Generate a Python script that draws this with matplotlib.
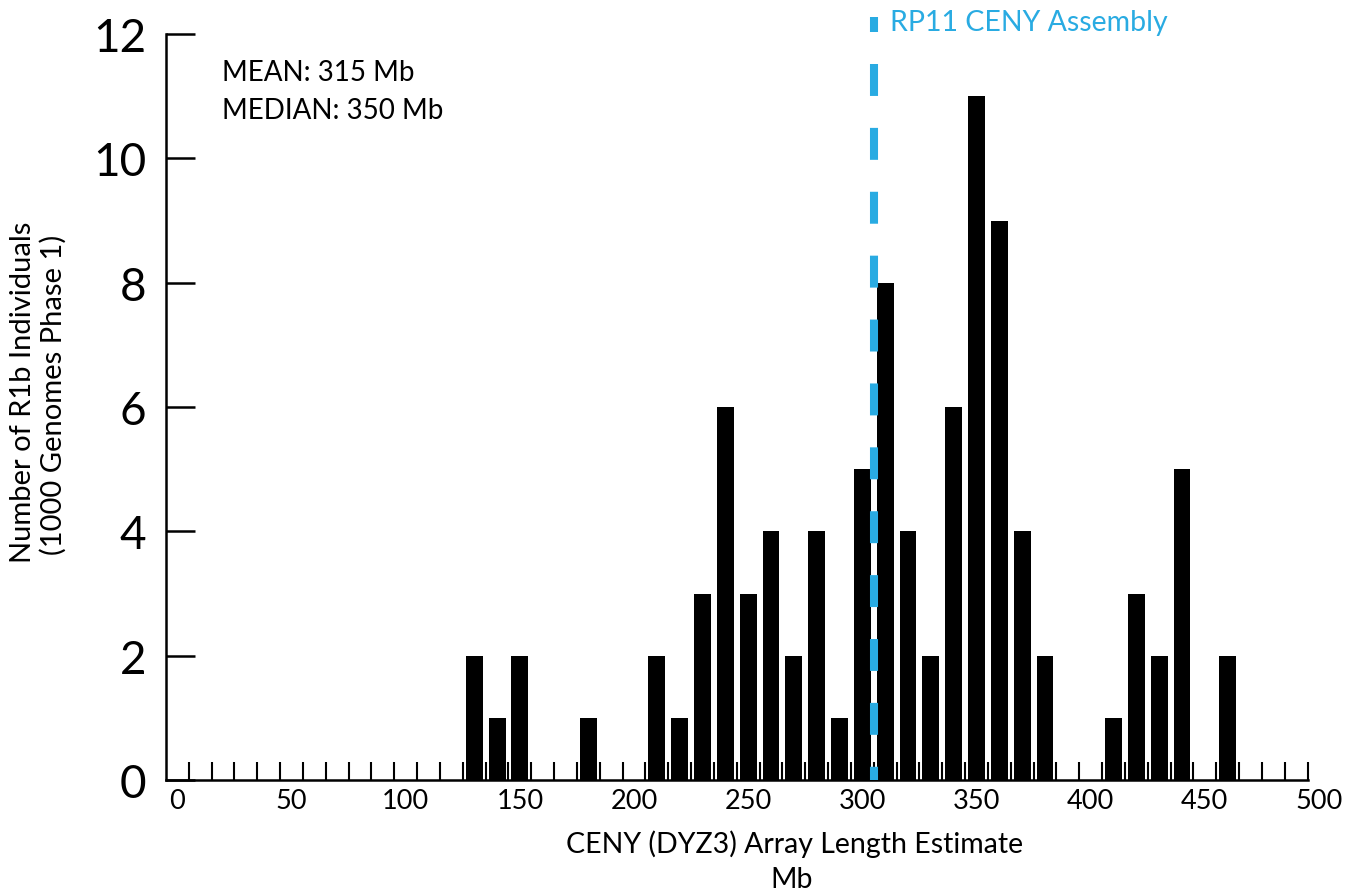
import numpy as np
import matplotlib
matplotlib.use("Agg")
import matplotlib.pyplot as plt

plt.rcParams['font.family'] = ['Lato', 'DejaVu Sans']
plt.rcParams['lines.scale_dashes'] = False

# histogram bins (Mb, bin centres) and counts
bin_centres = [130, 140, 150, 180, 210, 220, 230, 240, 250, 260, 270, 280, 290,
               300, 310, 320, 330, 340, 350, 360, 370, 380, 410, 420, 430, 440, 460]
counts = [2, 1, 2, 1, 2, 1, 3, 6, 3, 4, 2, 4, 1,
          5, 8, 4, 2, 6, 11, 9, 4, 2, 1, 3, 2, 5, 2]
rp11_length = 305
x_ticks = [0, 50, 100, 150, 200, 250, 300, 350, 400, 450, 500]
y_ticks = [0, 2, 4, 6, 8, 10, 12]
blue = '#29abe2'

W, H = 1359, 895
fig = plt.figure(figsize=(W / 100, H / 100), dpi=100)
ax = fig.add_axes([166 / W, 1 - 781 / H, (1319 - 166) / W, (781 - 35) / H])

ax.bar(bin_centres, counts, width=7.4, color='black', zorder=2)

# reference line for the RP11 assembly
ax.plot([rp11_length, rp11_length], [11.52, 0], color=blue, lw=5.8,
        dashes=(23, 23), dash_capstyle='butt', zorder=3, clip_on=False)
ax.plot([rp11_length, rp11_length], [12.03, 12.27], color=blue, lw=5.8,
        solid_capstyle='butt', clip_on=False)
ax.text(312, 12.19, 'RP11 CENY Assembly', color=blue, fontsize=20.5,
        va='center', ha='left')

ax.set_xlim(-5, 500)
ax.set_ylim(0, 12)
for s in ['top', 'right']:
    ax.spines[s].set_visible(False)
ax.spines['bottom'].set_bounds(-5, 495)
ax.spines['left'].set_linewidth(1.8)
ax.spines['bottom'].set_linewidth(1.8)

ax.set_xticks(x_ticks)
ax.set_xticklabels([str(v) for v in x_ticks])
ax.set_xticks(np.arange(5, 500, 10), minor=True)
ax.tick_params(axis='x', which='major', length=0, pad=6, labelsize=19.5)
ax.tick_params(axis='x', which='minor', direction='in', length=13, width=1.5)
ax.set_yticks(y_ticks)
ax.tick_params(axis='y', direction='in', length=21, width=1.8, pad=14, labelsize=33)

fig.text(222 / W, 1 - 81 / H, 'MEAN: 315 Mb', fontsize=20, va='baseline')
fig.text(222 / W, 1 - 119 / H, 'MEDIAN: 350 Mb', fontsize=20, va='baseline')

fig.text(795 / W, 1 - 853 / H, 'CENY (DYZ3) Array Length Estimate', fontsize=20.5,
         ha='center', va='baseline')
fig.text(792 / W, 1 - 888 / H, 'Mb', fontsize=20.5, ha='center', va='baseline')

fig.text(23 / W, 1 - 392 / H, 'Number of R1b Individuals',
         fontsize=21, rotation=90, ha='center', va='center')
fig.text(53 / W, 1 - 395 / H, '(1000 Genomes Phase 1)',
         fontsize=21, rotation=90, ha='center', va='center')

fig.savefig('out.png', dpi=100)
